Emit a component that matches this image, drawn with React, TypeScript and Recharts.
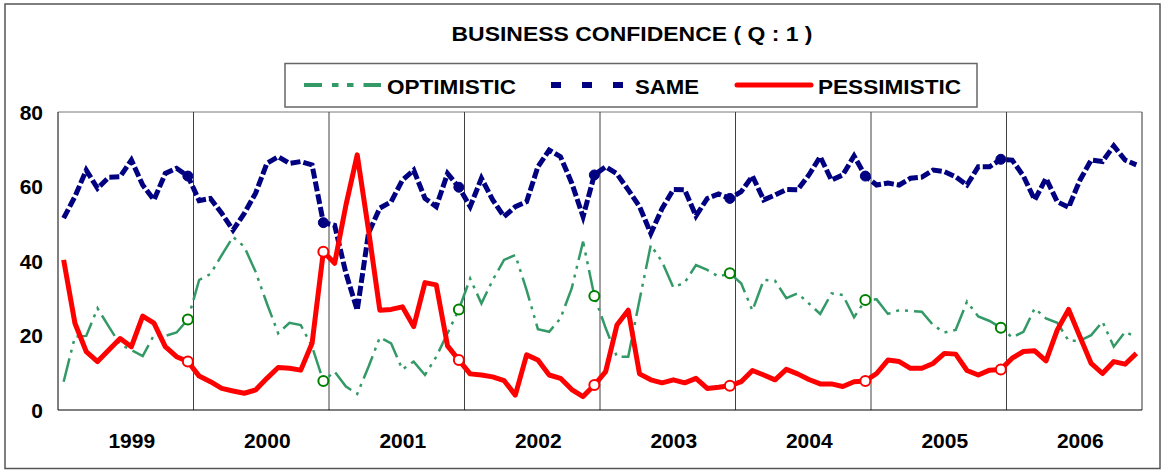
import React from 'react';
import { LineChart, Line, XAxis, YAxis, ReferenceLine } from 'recharts';

const FONT = "'Liberation Sans', Arial, Helvetica, sans-serif";

const years = ['1999', '2000', '2001', '2002', '2003', '2004', '2005', '2006'];

const optimistic = [
  7.6, 19.7, 19.9, 27.3, 22.4, 17.6, 16.1, 14.5, 20.1, 19.9, 20.8, 24.3,
  34.9, 36.5, 41.6, 46.5, 43.8, 37.1, 28.6, 20.6, 23.4, 22.8, 17.0, 7.8,
  10.3, 6.3, 4.3, 11.6, 19.5, 17.9, 10.9, 13.0, 9.4, 14.3, 20.6, 27.0,
  35.3, 28.6, 34.9, 40.3, 41.6, 32.2, 21.7, 21.0, 24.6, 32.7, 45.2, 30.6,
  22.0, 14.3, 14.3, 29.5, 44.3, 39.8, 32.9, 34.2, 38.9, 37.6, 35.8, 36.7,
  34.0, 26.7, 34.9, 34.7, 30.0, 31.3, 28.6, 25.8, 31.3, 30.9, 24.9, 29.5,
  29.7, 25.8, 26.8, 26.6, 26.4, 22.8, 20.8, 21.5, 29.1, 25.1, 23.9, 22.1,
  19.5, 21.0, 27.3, 24.6, 23.4, 18.6, 18.6, 20.1, 23.7, 17.0, 21.0, 19.5,
];

const same = [
  51.5, 57.3, 64.4, 59.5, 62.5, 62.6, 67.1, 60.4, 56.4, 63.5, 64.9, 62.8,
  56.2, 56.8, 52.8, 48.3, 52.8, 58.2, 66.2, 68.0, 66.2, 66.7, 65.8, 50.3,
  49.6, 36.7, 26.8, 47.5, 54.2, 55.9, 61.7, 64.4, 56.8, 54.6, 63.5, 59.8,
  54.6, 62.2, 56.4, 51.9, 54.6, 55.9, 65.3, 69.8, 68.0, 60.9, 51.9, 63.1,
  65.3, 63.4, 59.1, 54.6, 47.4, 54.1, 59.2, 59.1, 52.1, 56.8, 58.0, 56.8,
  58.6, 62.8, 56.4, 57.7, 59.2, 59.1, 63.1, 68.0, 61.7, 63.1, 68.2, 62.8,
  60.4, 60.9, 60.4, 62.2, 62.5, 64.4, 64.0, 62.6, 60.4, 65.3, 65.3, 67.3,
  67.1, 62.8, 56.4, 62.2, 55.9, 54.4, 61.7, 67.1, 66.7, 70.9, 67.1, 65.8,
];

const pessimistic = [
  40.3, 23.3, 15.7, 13.0, 16.1, 19.2, 17.0, 25.2, 23.3, 17.0, 14.3, 13.0,
  9.1, 7.6, 5.8, 5.1, 4.5, 5.4, 8.5, 11.4, 11.2, 10.7, 17.9, 42.5,
  39.4, 55.0, 68.5, 48.3, 26.8, 27.0, 27.7, 22.4, 34.2, 33.6, 17.2, 13.4,
  9.7, 9.4, 8.9, 7.9, 4.0, 14.8, 13.4, 9.4, 8.5, 5.5, 3.6, 6.7,
  10.3, 22.8, 26.8, 9.7, 8.1, 7.3, 8.1, 7.3, 8.5, 5.8, 6.1, 6.5,
  7.6, 10.6, 9.4, 8.1, 10.9, 9.7, 8.2, 7.0, 7.0, 6.3, 7.6, 7.8,
  9.8, 13.4, 13.0, 11.2, 11.2, 12.5, 15.2, 15.0, 10.6, 9.4, 10.7, 10.9,
  13.9, 15.7, 15.9, 13.2, 21.5, 27.0, 19.7, 12.5, 9.8, 13.0, 12.3, 15.2,
];

const yTicks = [0, 20, 40, 60, 80];
// December of 1999..2005 carries a marker
const markedIndex = [11, 23, 35, 47, 59, 71, 83];

const MONTHS = 12;
const data = optimistic.map((v, i) => ({
  t: i + 0.5,
  optimistic: v,
  same: same[i],
  pessimistic: pessimistic[i],
}));
const yearCenters = years.map((_, k) => k * MONTHS + MONTHS / 2);
const yearBounds = years.slice(1).map((_, k) => (k + 1) * MONTHS);
const xMax = years.length * MONTHS;

const XTick = (p: any) => {
  const idx = Math.round((p.payload.value - MONTHS / 2) / MONTHS);
  return (
    <text x={p.x + 6} y={p.y + 38} textAnchor="middle" fill="#000" fontSize={21} fontWeight={700} fontFamily={FONT}>
      {years[idx]}
    </text>
  );
};

const YTick = (p: any) => (
  <text x={p.x} y={p.y + 7.5} textAnchor="end" fill="#000" fontSize={21} fontWeight={700} fontFamily={FONT}>
    {p.payload.value}
  </text>
);

const makeDot = (kind: string, stroke: string, fill: string, r: number, sw: number) => (props: any) => {
  const { cx, cy, index } = props;
  if (!markedIndex.includes(index) || cx == null || cy == null) return <g key={`${kind}-n-${index}`} />;
  return <circle key={`${kind}-d-${index}`} cx={cx} cy={cy} r={r} fill={fill} stroke={stroke} strokeWidth={sw} />;
};

const GREEN = '#339966';
const GREEN_MARK = '#008000';
const NAVY = '#000080';
const RED = '#FF0000';

export default function App() {
  return (
    <div style={{ position: 'absolute', left: 0, top: 0, width: 1165, height: 470, background: '#fff' }}>
      <LineChart
        width={1165}
        height={470}
        data={data}
        margin={{ top: 112, right: 23, bottom: 20, left: 8 }}
      >
        <XAxis
          dataKey="t"
          type="number"
          domain={[0, xMax]}
          ticks={yearCenters}
          interval={0}
          tick={<XTick />}
          tickLine={false}
          tickSize={0}
          tickMargin={0}
          height={40}
          axisLine={{ stroke: '#000', strokeWidth: 1 }}
          allowDataOverflow
        />
        <YAxis
          type="number"
          domain={[0, 80]}
          ticks={yTicks}
          interval={0}
          tick={<YTick />}
          tickLine={false}
          tickSize={0}
          tickMargin={15}
          width={50}
          axisLine={{ stroke: '#000', strokeWidth: 1 }}
        />
        <ReferenceLine y={80} stroke="#7a7a7a" strokeWidth={1} ifOverflow="extendDomain" />
        <ReferenceLine x={xMax} stroke="#333" strokeWidth={1} ifOverflow="extendDomain" />
        {yearBounds.map((b) => (
          <ReferenceLine key={b} x={b} stroke="#404040" strokeWidth={1} />
        ))}
        <Line
          type="linear"
          dataKey="optimistic"
          stroke={GREEN}
          strokeWidth={2.5}
          strokeDasharray="24 6 3 6 3 6"
          dot={makeDot('o', GREEN_MARK, '#fff', 5, 2)}
          activeDot={false}
          isAnimationActive={false}
        />
        <Line
          type="linear"
          dataKey="same"
          stroke={NAVY}
          strokeWidth={5}
          strokeDasharray="10 3"
          dot={makeDot('s', NAVY, NAVY, 5, 1)}
          activeDot={false}
          isAnimationActive={false}
        />
        <Line
          type="linear"
          dataKey="pessimistic"
          stroke={RED}
          strokeWidth={5}
          strokeLinejoin="round"
          dot={makeDot('p', RED, '#fff', 5, 2)}
          activeDot={false}
          isAnimationActive={false}
        />
      </LineChart>
      <svg
        width={1165}
        height={470}
        style={{ position: 'absolute', left: 0, top: 0, pointerEvents: 'none' }}
      >
        <rect x={5} y={4} width={1155} height={464.5} fill="none" stroke="#555" strokeWidth={1.5} />
        <text
          x={451.5}
          y={41}
          fontSize={20}
          fontWeight={700}
          fontFamily={FONT}
          fill="#000"
          textLength={361}
          lengthAdjust="spacingAndGlyphs"
        >
          BUSINESS CONFIDENCE ( Q : 1 )
        </text>
        <rect x={285} y={63.5} width={692} height={43.5} fill="#fff" stroke="#666" strokeWidth={1.5} />
        <line x1={304} y1={85} x2={381} y2={85} stroke={GREEN} strokeWidth={4} strokeDasharray="18 10 6.5 8.5 6.5 10" />
        <text x={387} y={94} fontSize={21} fontWeight={700} fontFamily={FONT} fill="#000" textLength={129} lengthAdjust="spacingAndGlyphs">
          OPTIMISTIC
        </text>
        <line x1={551} y1={85} x2={623} y2={85} stroke={NAVY} strokeWidth={6} strokeDasharray="10 21" />
        <text x={635} y={94} fontSize={21} fontWeight={700} fontFamily={FONT} fill="#000" textLength={64} lengthAdjust="spacingAndGlyphs">
          SAME
        </text>
        <line x1={737} y1={85} x2={811} y2={85} stroke={RED} strokeWidth={5} strokeLinecap="round" />
        <text x={818} y={94} fontSize={21} fontWeight={700} fontFamily={FONT} fill="#000" textLength={143} lengthAdjust="spacingAndGlyphs">
          PESSIMISTIC
        </text>
      </svg>
    </div>
  );
}
